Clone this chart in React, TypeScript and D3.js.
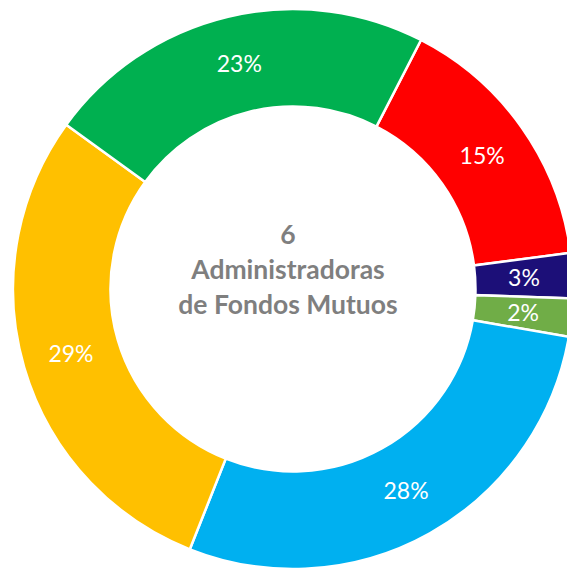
import React from "react";
import * as d3 from "d3";

const categories = ["A", "B", "C", "D", "E", "F"];
const values = [15.4, 2.6, 2.2, 28.3, 29.0, 22.6];
const colors = ["#FF0000", "#1C0F78", "#70AD47", "#00B0F0", "#FFC000", "#00B050"];
const centerLines = ["6", "Administradoras", "de Fondos Mutuos"];

const W = 567;
const H = 569;
const cx = 293;
const cy = 289;
const rOuter = 280;
const rInner = 182.5;
const startDeg = 27.2;

export default function App() {
  const total = d3.sum(values);
  const pie = d3
    .pie<number>()
    .sort(null)
    .value((d) => d)
    .startAngle((startDeg * Math.PI) / 180)
    .endAngle((startDeg * Math.PI) / 180 + 2 * Math.PI);
  const arcs = pie(values);
  const arc = d3.arc<d3.PieArcDatum<number>>().innerRadius(rInner).outerRadius(rOuter);
  return (
    <svg
      width={W}
      height={H}
      style={{ position: "absolute", left: 0, top: 0, background: "#fff" }}
    >
      <g transform={`translate(${cx},${cy})`}>
        {arcs.map((a, i) => (
          <path
            key={categories[i]}
            d={arc(a) || ""}
            fill={colors[i]}
            stroke="#fff"
            strokeWidth={2.5}
          />
        ))}
        {arcs.map((a, i) => {
          const [x, y] = arc.centroid(a);
          return (
            <text
              key={"l" + categories[i]}
              x={x}
              y={y}
              dy="0.36em"
              textAnchor="middle"
              fill="#fff"
              fontFamily="Lato, 'Open Sans', sans-serif"
              fontSize={23}
            >
              {Math.round((values[i] / total) * 100)}%
            </text>
          );
        })}
        {centerLines.map((t, i) => (
          <text
            key={"c" + i}
            x={-5}
            y={-45 + i * 35}
            textAnchor="middle"
            fill="#7F7F7F"
            fontFamily="Lato, 'Open Sans', sans-serif"
            fontWeight="bold"
            fontSize={26.5}
          >
            {t}
          </text>
        ))}
      </g>
    </svg>
  );
}
